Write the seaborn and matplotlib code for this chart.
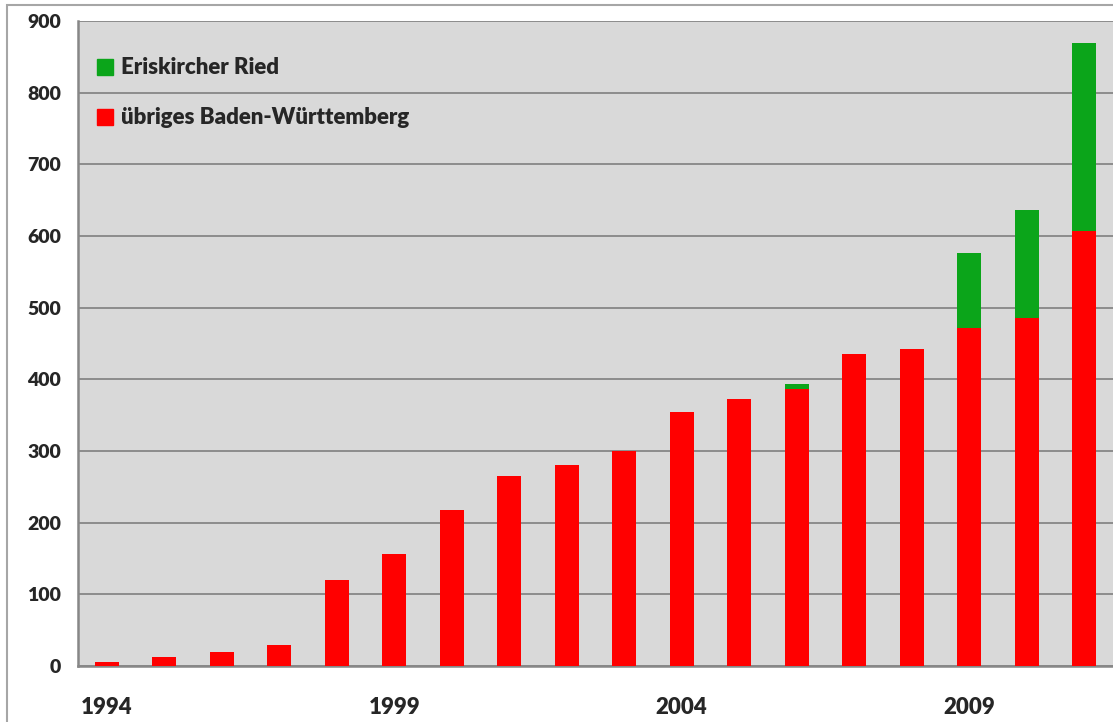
import matplotlib
matplotlib.use("Agg")
import matplotlib.pyplot as plt
from matplotlib.lines import Line2D
from matplotlib.patches import Rectangle
import seaborn as sns
import numpy as np

# ---------------------------
# DATA
# ---------------------------
years = list(range(1994, 2012))
rest_bw = [5, 12, 19, 30, 120, 156, 217, 265, 280, 300, 354, 372, 386, 435, 443, 471, 486, 607]
eriskirch = [0, 0, 0, 0, 0, 0, 0, 0, 0, 0, 0, 0, 8, 0, 0, 105, 150, 262]
shown_years = ["1994", "1999", "2004", "2009"]
y_ticks = [0, 100, 200, 300, 400, 500, 600, 700, 800, 900]

total = [a + b for a, b in zip(rest_bw, eriskirch)]
labels = [str(y) for y in years]

# ---------------------------
# STYLE
# ---------------------------
sns.set_style("white")
plt.rcParams["font.family"] = ["Lato", "DejaVu Sans"]
plt.rcParams["font.weight"] = "heavy"

green = "#0BA51A"
red = "#FF0000"
grey_bg = "#D9D9D9"
line_col = "#878787"

fig = plt.figure(figsize=(11.13, 7.22), dpi=100)
ax = fig.add_axes([78 / 1113, 1 - 666 / 722, 1 - 78 / 1113, (666 - 21) / 722])
ax.set_facecolor(grey_bg)

# outer chart frame
fig.patches.append(Rectangle((7 / 1113, -0.1), 1.2, 1.1 - 5 / 722,
                             transform=fig.transFigure, fill=False,
                             edgecolor="#A6A6A6", linewidth=1.5, zorder=0))

# green total first, red part drawn over it
sns.barplot(x=labels, y=total, color=green, saturation=1, width=0.41,
            errorbar=None, ax=ax, zorder=3, linewidth=0)
sns.barplot(x=labels, y=rest_bw, color=red, saturation=1, width=0.41,
            errorbar=None, ax=ax, zorder=4, linewidth=0)

ax.set_xlim(-0.5, len(years) - 0.5)
ax.set_ylim(0, 900)
ax.set_yticks(y_ticks)
ax.set_yticklabels([str(v) for v in y_ticks], fontsize=14, fontweight="heavy")
ax.yaxis.grid(True, color=line_col, linewidth=1.3)
ax.set_axisbelow(True)

# category boundaries as ticks, labels at selected centers
ax.set_xticks(np.arange(-0.5, len(years), 1.0))
ax.set_xticklabels([])
centers = [years.index(int(y)) for y in shown_years]
ax.set_xticks(centers, minor=True)
ax.set_xticklabels(shown_years, minor=True, fontsize=16, fontweight="heavy")
ax.tick_params(axis="x", which="major", length=6, width=1.3, color=line_col, direction="out")
ax.tick_params(axis="x", which="minor", length=0, pad=22)
ax.tick_params(axis="y", length=6, width=1.3, color=line_col, direction="out", pad=6)
ax.set_xlabel("")
ax.set_ylabel("")

for side in ["top", "right"]:
    ax.spines[side].set_visible(False)
for side in ["left", "bottom"]:
    ax.spines[side].set_color(line_col)
    ax.spines[side].set_linewidth(1.8)

# ---------------------------
# LEGEND
# ---------------------------
handles = [
    Line2D([], [], marker="s", linestyle="none", markersize=12, color=green),
    Line2D([], [], marker="s", linestyle="none", markersize=12, color=red),
]
leg = ax.legend(handles, ["Eriskircher Ried", "übriges Baden-Württemberg"],
                loc="upper left", bbox_to_anchor=(-0.004, 0.978), frameon=False,
                prop={"size": 16, "weight": "heavy"}, handlelength=0.8,
                handletextpad=0.3, labelspacing=1.3, borderaxespad=0.6)

fig.savefig("out.png", dpi=100)
